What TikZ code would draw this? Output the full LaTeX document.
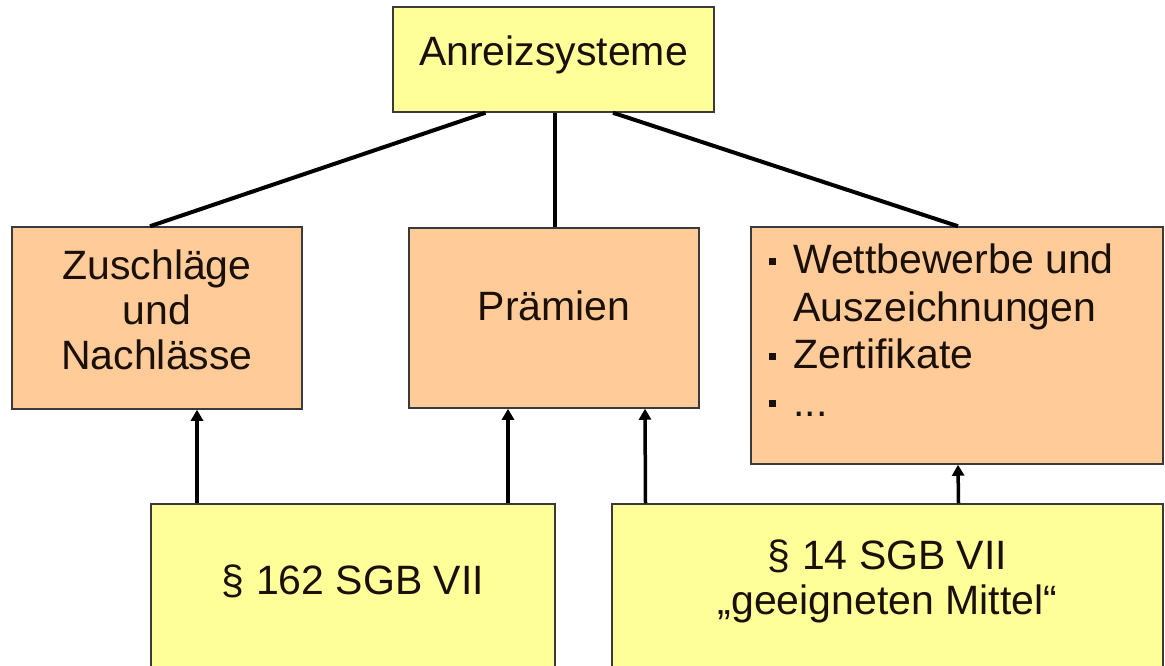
\documentclass[tikz,border=0pt]{standalone}
\usepackage{fontspec}
\setmainfont{Liberation Sans}
\usetikzlibrary{arrows.meta}
\definecolor{boxyellow}{HTML}{FFFF99}
\definecolor{boxorange}{HTML}{FFCC99}
\definecolor{edgecol}{HTML}{3A3A3A}
\definecolor{txtcol}{HTML}{1A1008}
\newcommand\sqbul{\makebox[24pt][l]{\rule[9pt]{7pt}{7pt}}}
\newcommand\lowstrut[1]{\rule[-#1]{0pt}{0pt}}
\begin{document}
\begin{tikzpicture}[x=1pt,y=-1pt,
  box/.style={draw=edgecol, line width=1.5pt, inner sep=0pt, align=center,
    font=\fontsize{41}{45}\selectfont, text=txtcol},
  ybox/.style={box, fill=boxyellow},
  obox/.style={box, fill=boxorange},
  conn/.style={line width=4pt, draw=black},
  arr/.style={line width=3.5pt, draw=black, -{Triangle[width=12pt,length=11pt]}}]
\useasboundingbox (0,0) rectangle (1165,666);
\node[ybox, minimum width=321pt, minimum height=105pt, text height=30pt, text depth=18pt] (top) at (553.5,59.5) {Anreizsysteme};
\node[obox, minimum width=290pt, minimum height=182pt] (z) at (157,318) {Zuschläge\\und\\Nachlässe\lowstrut{16pt}};
\node[obox, minimum width=290pt, minimum height=180pt, text height=30pt, text depth=26pt] (p) at (554,318) {Prämien};
\node[obox, minimum width=412pt, minimum height=237pt] (w) at (957,345.5) {};
\node[anchor=north west, inner sep=0pt, align=left, text=txtcol,
  font=\fontsize{41}{47.5}\selectfont] (wt) at (769,244)
  {\sqbul Wettbewerbe und\\\hspace*{24pt}Auszeichnungen\\\sqbul Zertifikate\\\sqbul ...};
\node[ybox, minimum width=404pt, minimum height=170pt, text height=30pt, text depth=19pt] (b1) at (353,589) {§ 162 SGB VII};
\node[ybox, minimum width=551pt, minimum height=170pt] (b2) at (887.5,589) {§ 14 SGB VII\\„geeigneten Mittel“\lowstrut{23pt}};
\draw[conn] ([xshift=-68pt]top.south) -- ([xshift=-7pt]z.north);
\draw[conn] ([xshift=1.5pt]top.south) -- ([xshift=1pt]p.north);
\draw[conn] ([xshift=59.5pt]top.south) -- ([xshift=1pt]w.north);
\draw[arr] ([xshift=-156pt]b1.north) -- ([xshift=40pt]z.south);
\draw[arr] ([xshift=155pt]b1.north) -- ([xshift=-46pt]p.south);
\draw[arr] ([xshift=-242pt]b2.north) -- ([xshift=91pt]p.south);
\draw[arr] ([xshift=71pt]b2.north) -- ([xshift=1pt]w.south);
\end{tikzpicture}
\end{document}
